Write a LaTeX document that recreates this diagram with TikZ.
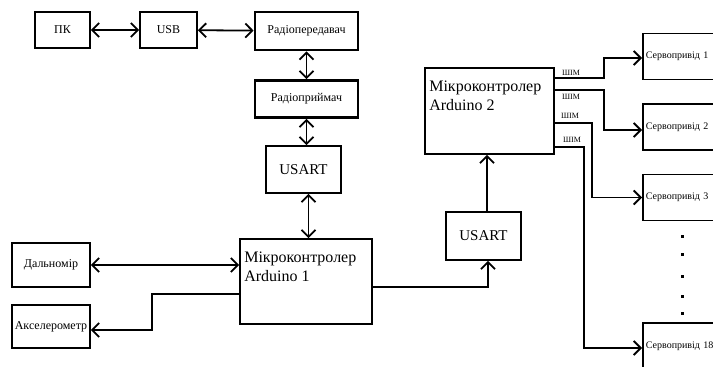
\documentclass[tikz,border=0pt]{standalone}
\usepackage{fontspec}
\setmainfont{Liberation Serif}
\usetikzlibrary{arrows.meta}
\tikzstyle{block}=[draw,rectangle,line width=1.8pt,inner sep=2pt,font=\fontsize{12}{14}\selectfont]
\tikzstyle{thickblock}=[block,line width=2.8pt]
\tikzstyle{mcu}=[draw,rectangle,line width=1.8pt,minimum width=132pt,minimum height=85pt]
\tikzstyle{mcutext}=[anchor=north west,align=left,inner sep=0pt,font=\fontsize{16}{19}\selectfont]
\tikzstyle{servo}=[draw,rectangle,line width=1.8pt,anchor=west,text width=94pt,inner xsep=3pt,minimum height=46pt,align=left,font=\fontsize{10}{12}\selectfont]
\tikzstyle{pwm}=[inner sep=0pt,font=\fontsize{8}{9}\selectfont]
\tikzstyle{link}=[line width=1.8pt]

\begin{document}
\begin{tikzpicture}[x=1pt,y=-1pt,>={Straight Barb[length=7pt,width=14pt]}]
\useasboundingbox (0,0) rectangle (713,367);
\clip (0,0) rectangle (713,367);
\node[block,minimum width=55pt,minimum height=36pt] (pk) at (62.5,30) {ПК};
\node[block,minimum width=57pt,minimum height=36pt] (usb) at (168.5,30) {USB};
\node[thickblock,minimum width=103pt,minimum height=38pt] (tx) at (306.5,31) {Радіопередавач};
\node[thickblock,minimum width=103pt,minimum height=37pt] (rx) at (306.5,99) {Радіоприймач};
\node[block,minimum width=75pt,minimum height=47pt,font=\fontsize{15}{18}\selectfont] (usart1) at (303.5,169.5) {USART};
\node[mcu,label={[mcutext,xshift=5pt,yshift=-14pt]north west:Мікроконтролер\\Arduino 1}] (mc1) at (306,281.5) {};
\node[block,minimum width=78pt,minimum height=44pt] (dal) at (51,265) {Дальномір};
\node[block,minimum width=78pt,minimum height=43pt] (acc) at (51,326.5) {Акселерометр};
\node[block,minimum width=75pt,minimum height=48pt,font=\fontsize{15}{18}\selectfont] (usart2) at (483.5,236) {USART};
\node[mcu,minimum width=129pt,minimum height=86pt,label={[mcutext,xshift=5pt,yshift=-14pt]north west:Мікроконтролер\\Arduino 2}] (mc2) at (489.5,111) {};
\node[servo] (s1) at (642,56.5) {Сервопривід 1};
\node[servo] (s2) at (642,127) {Сервопривід 2};
\node[servo] (s3) at (642,197.5) {Сервопривід 3};
\node[servo] (s18) at (642,346) {Сервопривід 18};
\node[pwm] (pwm1) at (571,73) {ШІМ};
\node[pwm] (pwm2) at (571,97) {ШІМ};
\node[pwm] (pwm3) at (570,116) {ШІМ};
\node[pwm] (pwm4) at (572,140) {ШІМ};
% radio link
\draw[link,<->] (pk) -- (usb);
\draw[link,<->] (usb) -- (tx);
\draw[link,<->] (tx) -- (rx);
\draw[link,<->] (rx.south) -- (rx.south |- usart1.north);
\draw[link,<->] ([xshift=5pt]usart1.south) -- ([xshift=5pt]usart1.south |- mc1.north);
% sensors
\draw[link,<->] (dal.east) -- (dal.east -| mc1.west);
\draw[link,->] ([yshift=-12.5pt]mc1.west) -- ++(-87,0) |- ([yshift=-3.5pt]acc.east);
% second controller
\draw[link,->] ([yshift=-5.5pt]mc1.east) -| ([xshift=4.5pt]usart2.south);
\draw[link,->] ([xshift=3.5pt]usart2.north) -- ([xshift=3.5pt]usart2.north |- mc2.south);
% servos
\draw[link,->] ([yshift=33pt]mc2.east) -- ++(49,0) |- ([yshift=-1.5pt]s1.west);
\draw[link,->] ([yshift=21pt]mc2.east) -- ++(49,0) |- ([yshift=-3pt]s2.west);
\draw[link,->] ([yshift=-12pt]mc2.east) -- ++(37,0) |- (s3.west);
\draw[link,->] ([yshift=-36pt]mc2.east) -- ++(29,0) |- ([yshift=-2pt]s18.west);
\foreach \y in {235,253,275,295,312}
  \fill (681,\y) rectangle ++(3,3);
\end{tikzpicture}
\end{document}
